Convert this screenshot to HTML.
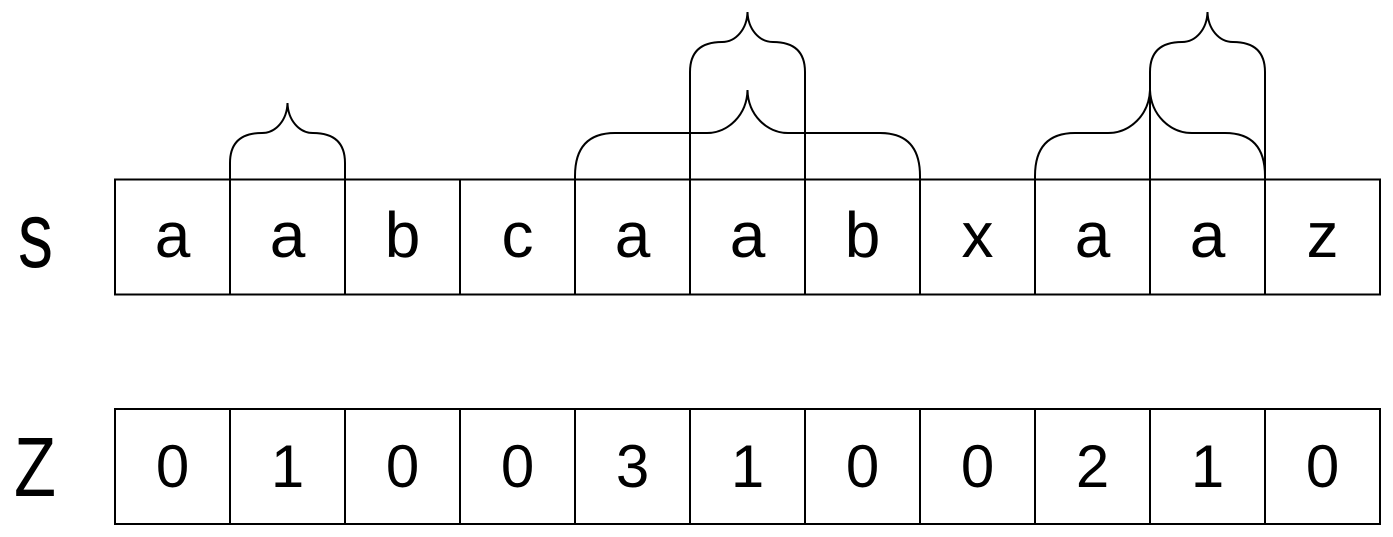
<!DOCTYPE html>
<html><head><style>html,body{margin:0;padding:0;background:#fff}svg{display:block}</style></head>
<body>
<svg width="1393" height="537" viewBox="0 0 1393 537" xmlns="http://www.w3.org/2000/svg" font-family="Liberation Sans, sans-serif">
<g fill="none" stroke="#000" stroke-width="2">
<rect x="115" y="179.5" width="1265" height="115"/>
<rect x="115" y="409" width="1265" height="115"/>
<path d="M230 179.5V294.5M345 179.5V294.5M460 179.5V294.5M575 179.5V294.5M690 179.5V294.5M805 179.5V294.5M920 179.5V294.5M1035 179.5V294.5M1150 179.5V294.5M1265 179.5V294.5"/>
<path d="M230 409V524M345 409V524M460 409V524M575 409V524M690 409V524M805 409V524M920 409V524M1035 409V524M1150 409V524M1265 409V524"/>
<path d="M230 179.5V163 Q230 133 262 133 C276 133 287 120 287.5 103 C288 120 299 133 313 133 Q345 133 345 163V179.5"/>
<path d="M690 179.5V72 Q690 42 722 42 C736 42 747 29 747.5 12 C748 29 759 42 773 42 Q805 42 805 72V179.5"/>
<path d="M575 179.5V176 Q575 133 615 133 H707 C728 133 747 115 747.5 90 C748 115 767 133 788 133 H880 Q920 133 920 176V179.5"/>
<path d="M1035 179.5V176 Q1035 133 1075 133 H1108 C1130 133 1149 115 1150 90 C1151 115 1170 133 1192 133 H1225 Q1265 133 1265 176V179.5"/>
<path d="M1150 179.5V72 Q1150 42 1182 42 C1196 42 1207 29 1207.5 12 C1208 29 1219 42 1233 42 Q1265 42 1265 72V179.5"/>
</g>
<g font-size="64" text-anchor="middle" fill="#000">
<text x="172.5" y="257">a</text><text x="287.5" y="257">a</text><text x="402.5" y="257">b</text><text x="517.5" y="257">c</text><text x="632.5" y="257">a</text><text x="747.5" y="257">a</text><text x="862.5" y="257">b</text><text x="977.5" y="257">x</text><text x="1092.5" y="257">a</text><text x="1207.5" y="257">a</text><text x="1322.5" y="257">z</text>
</g>
<g font-size="60" text-anchor="middle" fill="#000">
<text x="172.5" y="487">0</text><text x="287.5" y="487">1</text><text x="402.5" y="487">0</text><text x="517.5" y="487">0</text><text x="632.5" y="487">3</text><text x="747.5" y="487">1</text><text x="862.5" y="487">0</text><text x="977.5" y="487">0</text><text x="1092.5" y="487">2</text><text x="1207.5" y="487">1</text><text x="1322.5" y="487">0</text>
</g>
<text x="18" y="267" font-size="94" textLength="35" lengthAdjust="spacingAndGlyphs">s</text>
<text x="14" y="496" font-size="84" textLength="42" lengthAdjust="spacingAndGlyphs">Z</text>
</svg>
</body></html>
